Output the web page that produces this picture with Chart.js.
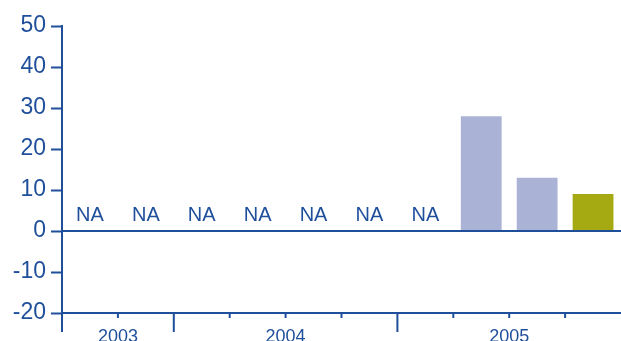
<!DOCTYPE html>
<html>
<head>
<meta charset="utf-8">
<script src="https://cdn.jsdelivr.net/npm/chart.js@4/dist/chart.umd.min.js"></script>
<style>
  html, body { margin: 0; padding: 0; background: #fff; }
  #wrap { width: 621px; height: 341px; }
</style>
</head>
<body>
<div id="wrap"><canvas id="chart" width="621" height="341"></canvas></div>
<script>
// Year each period belongs to (one entry per bar slot)
const periodYear = ['2003', '2003', '2004', '2004', '2004', '2004', '2005', '2005', '2005', '2005'];
// Values per period; null = not available
const values = [null, null, null, null, null, null, null, 28, 13, 9];
// Fill colour per period
const barColors = ['#aab3d6', '#aab3d6', '#aab3d6', '#aab3d6', '#aab3d6', '#aab3d6', '#aab3d6', '#aab3d6', '#aab3d6', '#a5a912'];
const yMin = -20, yMax = 50, yStep = 10;
const missingText = 'NA';

const BLUE = '#1f4f9b';
const FONT = '"Liberation Sans", Arial, Helvetica, sans-serif';

// Draws the zero line, NA markers, category ticks and year labels
const annotate = {
  id: 'annotate',
  afterDatasetsDraw(chart) {
    const { ctx, chartArea } = chart;
    const x = chart.scales.x, y = chart.scales.y;
    const n = periodYear.length;
    const half = (x.getPixelForValue(1) - x.getPixelForValue(0)) / 2;
    ctx.save();

    // zero line
    const y0 = y.getPixelForValue(0);
    ctx.strokeStyle = BLUE;
    ctx.lineWidth = 2;
    ctx.beginPath();
    ctx.moveTo(chartArea.left, y0);
    ctx.lineTo(chartArea.right, y0);
    ctx.stroke();

    // NA markers
    ctx.fillStyle = BLUE;
    ctx.font = '20px ' + FONT;
    ctx.textAlign = 'center';
    ctx.textBaseline = 'alphabetic';
    values.forEach((v, i) => {
      if (v === null) ctx.fillText(missingText, x.getPixelForValue(i), y0 - 10);
    });

    // category boundary ticks on the bottom axis
    const bottom = chartArea.bottom;
    for (let i = 0; i < n; i++) {
      const bx = x.getPixelForValue(i) - half;
      const major = i === 0 || periodYear[i] !== periodYear[i - 1];
      ctx.beginPath();
      ctx.moveTo(bx, bottom);
      ctx.lineTo(bx, bottom + (major ? 19 : 5));
      ctx.stroke();
    }

    // year labels centred under their group of periods
    ctx.font = '18px ' + FONT;
    let start = 0;
    for (let i = 1; i <= n; i++) {
      if (i === n || periodYear[i] !== periodYear[start]) {
        const cx = (x.getPixelForValue(start) + x.getPixelForValue(i - 1)) / 2;
        ctx.fillText(periodYear[start], cx, bottom + 29);
        start = i;
      }
    }
    ctx.restore();
  }
};

new Chart(document.getElementById('chart'), {
  type: 'bar',
  data: {
    labels: periodYear,
    datasets: [{
      data: values,
      backgroundColor: barColors,
      borderWidth: 0,
      categoryPercentage: 1,
      barPercentage: 0.73
    }]
  },
  options: {
    responsive: false,
    devicePixelRatio: 1,
    animation: false,
    layout: { padding: { top: 26, right: 0, bottom: 0, left: 0 } },
    plugins: { legend: { display: false }, tooltip: { enabled: false } },
    scales: {
      x: {
        ticks: { display: false },
        grid: { display: false },
        border: { display: true, color: BLUE, width: 2 },
        afterFit(scale) { scale.height = 28; }
      },
      y: {
        min: yMin,
        max: yMax,
        ticks: {
          stepSize: yStep,
          color: BLUE,
          padding: 5,
          font: { family: FONT, size: 23 }
        },
        grid: {
          drawOnChartArea: false,
          drawTicks: true,
          tickLength: 11,
          tickWidth: 2,
          tickColor: BLUE
        },
        border: { display: true, color: BLUE, width: 2 },
        afterFit(scale) { scale.width = 62; }
      }
    }
  },
  plugins: [annotate]
});
</script>
</body>
</html>
